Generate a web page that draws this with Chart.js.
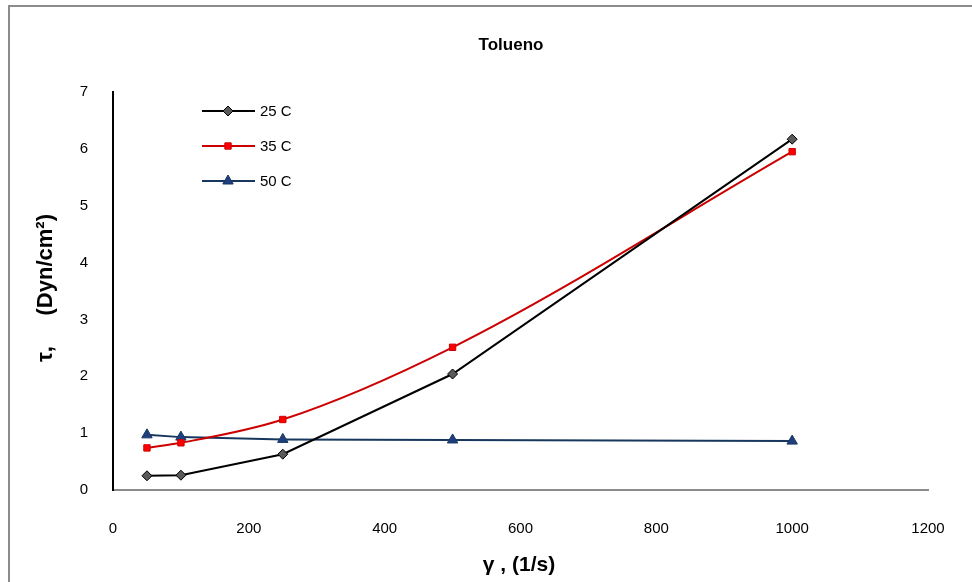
<!DOCTYPE html>
<html>
<head>
<meta charset="utf-8">
<script src="https://cdn.jsdelivr.net/npm/chart.js@4.4.1/dist/chart.umd.min.js"></script>
<style>
  html, body { margin: 0; padding: 0; background: #fff; }
  #wrap { width: 972px; height: 582px; position: relative; }
</style>
</head>
<body>
<div id="wrap"><canvas id="c"></canvas></div>
<script>
// shear rate (1/s)
var shearRate = [50, 100, 250, 500, 1000];
// shear stress (Dyn/cm2) per temperature
var tau25 = [0.25, 0.26, 0.63, 2.04, 6.17];
var tau35 = [0.74, 0.83, 1.24, 2.51, 5.95];
var tau50 = [0.97, 0.93, 0.89, 0.88, 0.86];
var seriesNames = ['25 C', '35 C', '50 C'];
var xTicks = [0, 200, 400, 600, 800, 1000, 1200];
var yTicks = [0, 1, 2, 3, 4, 5, 6, 7];

function pts(vals) {
  return shearRate.map(function (x, i) { return { x: x, y: vals[i] }; });
}

var FONT = "'Liberation Sans', Arial, sans-serif";

// frame, title, axis titles and the in-plot legend
var decor = {
  id: 'decor',
  beforeDraw: function (chart) {
    var ctx = chart.ctx;
    ctx.save();
    ctx.fillStyle = '#fff';
    ctx.fillRect(0, 0, chart.width, chart.height);
    ctx.strokeStyle = '#8c8c8c';
    ctx.lineWidth = 2;
    ctx.strokeRect(9, 6, 980, 600);
    ctx.restore();
  },
  afterDraw: function (chart) {
    var ctx = chart.ctx;
    ctx.save();
    ctx.fillStyle = '#000';
    ctx.textAlign = 'center';
    ctx.textBaseline = 'middle';
    ctx.font = 'bold 17px ' + FONT;
    ctx.fillText('Tolueno', 511, 45);

    ctx.font = 'bold 21px ' + FONT;
    ctx.fillText('\u03b3 , (1/s)', 519, 565);

    ctx.translate(46, 288);
    ctx.rotate(-Math.PI / 2);
    ctx.font = 'bold 22px ' + FONT;
    ctx.fillText('\u03c4,     (Dyn/cm\u00b2)', 0, 0);
    ctx.restore();

    // legend
    ctx.save();
    ctx.font = '15px ' + FONT;
    ctx.textAlign = 'left';
    ctx.textBaseline = 'middle';
    var rows = [111, 146, 181];
    chart.data.datasets.forEach(function (ds, i) {
      var y = rows[i];
      ctx.strokeStyle = ds.borderColor;
      ctx.lineWidth = 2;
      ctx.beginPath();
      ctx.moveTo(202, y);
      ctx.lineTo(255, y);
      ctx.stroke();
      ctx.fillStyle = ds.pointBackgroundColor;
      ctx.strokeStyle = ds.pointBorderColor;
      ctx.lineWidth = 1;
      Chart.helpers.drawPoint(ctx, {
        pointStyle: ds.pointStyle,
        radius: ds.pointRadius,
        borderWidth: 1
      }, 228, y);
      ctx.fillStyle = '#000';
      ctx.fillText(ds.label, 260, y + 1);
    });
    ctx.restore();
  }
};

new Chart(document.getElementById('c'), {
  type: 'line',
  data: {
    datasets: [
      {
        label: seriesNames[0],
        data: pts(tau25),
        borderColor: '#000000',
        borderWidth: 2,
        pointStyle: 'rectRot',
        pointRadius: 5,
        pointBackgroundColor: '#5a5a5a',
        pointBorderColor: '#000000',
        pointBorderWidth: 1,
        tension: 0
      },
      {
        label: seriesNames[1],
        data: pts(tau35),
        borderColor: '#cc0000',
        borderWidth: 2,
        pointStyle: 'rect',
        pointRadius: 4.5,
        pointBackgroundColor: '#ff0000',
        pointBorderColor: '#cc0000',
        pointBorderWidth: 1,
        cubicInterpolationMode: 'monotone'
      },
      {
        label: seriesNames[2],
        data: pts(tau50),
        borderColor: '#17375e',
        borderWidth: 2,
        pointStyle: 'triangle',
        pointRadius: 6,
        pointBackgroundColor: '#1f3f7f',
        pointBorderColor: '#17375e',
        pointBorderWidth: 1,
        tension: 0
      }
    ]
  },
  options: {
    responsive: true,
    maintainAspectRatio: false,
    animation: false,
    devicePixelRatio: 1,
    layout: { padding: { top: 92, right: 44, left: 0, bottom: 0 } },
    plugins: {
      legend: { display: false },
      title: { display: false },
      tooltip: { enabled: false }
    },
    scales: {
      x: {
        type: 'linear',
        min: 0,
        max: 1200,
        afterBuildTicks: function (s) { s.ticks = xTicks.map(function (v) { return { value: v }; }); },
        afterFit: function (s) { s.height = 92; },
        grid: { display: false },
        border: { display: true, color: '#8c8c8c', width: 2 },
        ticks: {
          color: '#000', padding: 22, maxRotation: 0,
          font: { family: FONT, size: 15 },
          callback: function (v) { return String(v); }
        }
      },
      y: {
        type: 'linear',
        min: 0,
        max: 7,
        afterBuildTicks: function (s) { s.ticks = yTicks.map(function (v) { return { value: v }; }); },
        afterFit: function (s) { s.width = 113; },
        grid: { display: false },
        border: { display: true, color: '#000', width: 2 },
        ticks: {
          color: '#000', padding: 17,
          font: { family: FONT, size: 15 },
          callback: function (v) { return String(v); }
        }
      }
    }
  },
  plugins: [decor]
});
</script>
</body>
</html>
